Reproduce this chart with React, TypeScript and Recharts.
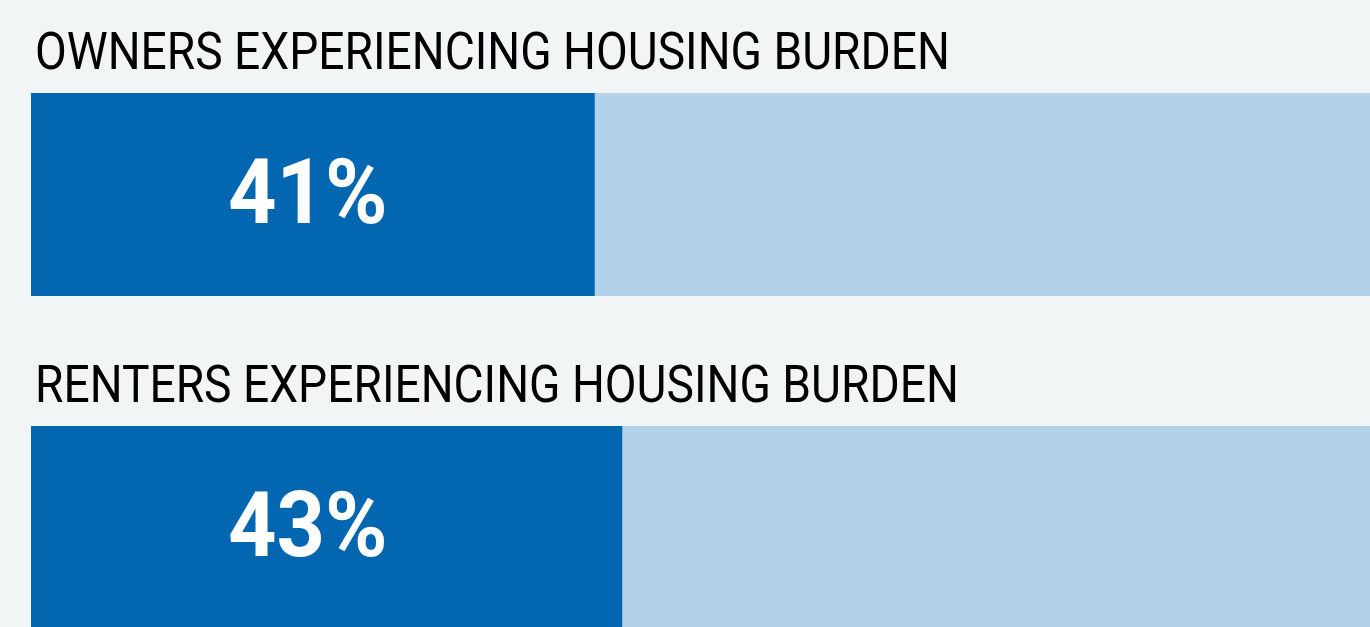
import React from 'react';
import { BarChart, Bar, XAxis, YAxis, LabelList } from 'recharts';

const categories = ['OWNERS EXPERIENCING HOUSING BURDEN', 'RENTERS EXPERIENCING HOUSING BURDEN'];
const burdenShare = [41, 43];

const data = categories.map((name, i) => ({ name, share: burdenShare[i] }));

const DARK = '#0266B1';
const LIGHT = '#B3D1E8';
const BG = '#F2F5F6';
const FONT = "Roboto, 'Noto Sans', sans-serif";

// reference face is narrower than Roboto, so squeeze horizontally
function TitleLabel(props: any) {
  const { x, y, value } = props;
  return (
    <text
      transform={`translate(${x + 4},${y - 24}) scale(0.905,1)`}
      fill="#000"
      fontFamily={FONT}
      fontSize={51}
    >
      {value}
    </text>
  );
}

function ShareLabel(props: any) {
  const { x, y, value } = props;
  return (
    <text
      transform={`translate(${x + 197},${y + 130}) scale(0.93,1)`}
      fill="#fff"
      fontFamily={FONT}
      fontWeight="bold"
      fontSize={91}
    >
      {`${value}%`}
    </text>
  );
}

export default function App() {
  return (
    <div
      style={{
        position: 'absolute',
        left: 0,
        top: 0,
        width: 1370,
        height: 627,
        overflow: 'hidden',
        background: BG,
      }}
    >
      <BarChart
        layout="vertical"
        width={1406}
        height={694}
        data={data}
        margin={{ top: 28, right: 0, bottom: 0, left: 31 }}
      >
        <XAxis type="number" domain={[0, 100]} hide />
        <YAxis type="category" dataKey="name" hide />
        <Bar
          dataKey="share"
          fill={DARK}
          barSize={203}
          background={{ fill: LIGHT }}
          isAnimationActive={false}
        >
          <LabelList dataKey="name" content={<TitleLabel />} />
          <LabelList dataKey="share" content={<ShareLabel />} />
        </Bar>
      </BarChart>
    </div>
  );
}
